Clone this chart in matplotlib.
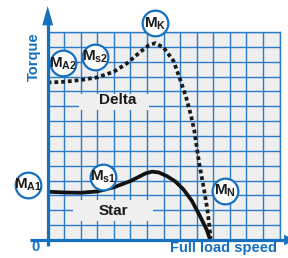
import matplotlib
matplotlib.use("Agg")
import matplotlib.pyplot as plt
from matplotlib.patches import Rectangle, Polygon

plt.rcParams['font.family'] = ['Liberation Sans', 'DejaVu Sans']
plt.rcParams['mathtext.fontset'] = 'custom'
plt.rcParams['mathtext.rm'] = 'Liberation Sans'
plt.rcParams['mathtext.bf'] = 'Liberation Sans:bold'

# ---- data (speed units 0..14, torque units 0..14) ----
delta_x = [0, 1, 2, 3, 4, 4.8, 5.6, 6.1, 6.5, 7.0, 7.6, 8.0, 8.35, 8.65, 8.85, 9.15, 9.45, 9.65, 9.85]
delta_y = [10.6, 10.65, 10.77, 10.95, 11.33, 11.9, 12.67, 13.1, 13.25, 12.95, 12.05, 10.8, 9.65, 8.4, 7.4, 5.15, 3.35, 2.0, 0.1]

star_x = [0, 1, 2, 3, 4, 5, 5.5, 5.9, 6.3, 6.7, 7.2, 7.7, 8.2, 8.7, 9.2, 9.6, 9.8]
star_y = [3.25, 3.2, 3.18, 3.27, 3.55, 3.97, 4.25, 4.48, 4.6, 4.55, 4.3, 3.95, 3.4, 2.65, 1.6, 0.7, 0.05]

marker_labels = [r'$\mathbf{M}_{\mathbf{A2}}$', r'$\mathbf{M}_{\mathbf{s2}}$', r'$\mathbf{M}_{\mathbf{K}}$',
                 r'$\mathbf{M}_{\mathbf{A1}}$', r'$\mathbf{M}_{\mathbf{s1}}$', r'$\mathbf{M}_{\mathbf{N}}$']
marker_x = [0.91, 2.86, 6.48, -1.21, 3.34, 10.71]
marker_y = [11.89, 12.34, 14.58, 3.70, 4.26, 3.32]

BLUE = '#1570c0'
GRID = '#2a7cc8'
BG = '#efefef'

fig = plt.figure(figsize=(2.88, 2.58), dpi=100)
ax = fig.add_axes([47.7 / 288, 18 / 258, 231.8 / 288, 208 / 258])
ax.set_facecolor(BG)
ax.set_xlim(0, 14)
ax.set_ylim(0, 14)
ax.set_xticks(range(15))
ax.set_yticks(range(15))
ax.tick_params(length=0, labelbottom=False, labelleft=False)
ax.grid(True, color=GRID, lw=1.0, zorder=1)
ax.set_axisbelow(True)
for s in ['top', 'right']:
    ax.spines[s].set_color(GRID)
    ax.spines[s].set_linewidth(1.0)
for s in ['left', 'bottom']:
    ax.spines[s].set_visible(False)

# text backgrounds hiding grid
ax.add_patch(Rectangle((1.53, 1.28), 4.83, 1.41, facecolor=BG, edgecolor='none', zorder=2))
ax.add_patch(Rectangle((1.9, 8.75), 4.2, 1.05, facecolor=BG, edgecolor='none', zorder=2))

# axes with arrows
ax.plot([0, 0], [-0.4, 14.6], color=BLUE, lw=2.3, clip_on=False, zorder=6, solid_capstyle='butt')
ax.add_patch(Polygon([[-0.33, 14.45], [0.33, 14.45], [0, 15.75]], closed=True,
                     facecolor=BLUE, edgecolor='none', clip_on=False, zorder=6))
ax.plot([-1.07, 14.3], [0, 0], color=BLUE, lw=2.3, clip_on=False, zorder=6, solid_capstyle='butt')
ax.add_patch(Polygon([[14.28, -0.36], [14.28, 0.36], [14.9, 0]], closed=True,
                     facecolor=BLUE, edgecolor='none', clip_on=False, zorder=6))

# curves
ax.plot(delta_x, delta_y, color='#1a1a1a', lw=2.7, linestyle=(0, (1.0, 0.8)),
        dash_capstyle='butt', zorder=4, clip_on=False)
ax.plot(star_x, star_y, color='#111111', lw=2.7, zorder=4, solid_capstyle='butt',
        solid_joinstyle='round')

# circled markers
ax.scatter(marker_x, marker_y, s=18.5 ** 2, facecolor='white', edgecolor=BLUE,
           linewidth=1.6, zorder=7, clip_on=False)
for lx, ly, lab in zip(marker_x, marker_y, marker_labels):
    ax.text(lx, ly, lab, ha='center', va='center', fontsize=11, color='#1a1a1a',
            zorder=8, clip_on=False)

ax.text(4.25, 9.45, 'Delta', ha='center', va='center', fontsize=11, fontweight='bold',
        color='#1a1a1a', zorder=5)
ax.text(3.95, 1.95, 'Star', ha='center', va='center', fontsize=11, fontweight='bold',
        color='#1a1a1a', zorder=5)

fig.text(34 / 288, 1 - 57 / 258, 'Torque', rotation=90, ha='center', va='center',
         fontsize=10.5, fontweight='bold', color=BLUE)
fig.text(36 / 288, 1 - 247 / 258, '0', ha='center', va='center',
         fontsize=10.5, fontweight='bold', color=BLUE)
fig.text(224 / 288, 1 - 248 / 258, 'Full load speed', ha='center', va='center',
         fontsize=10.5, fontweight='bold', color=BLUE)

fig.savefig('out.png', dpi=100, facecolor='white')
